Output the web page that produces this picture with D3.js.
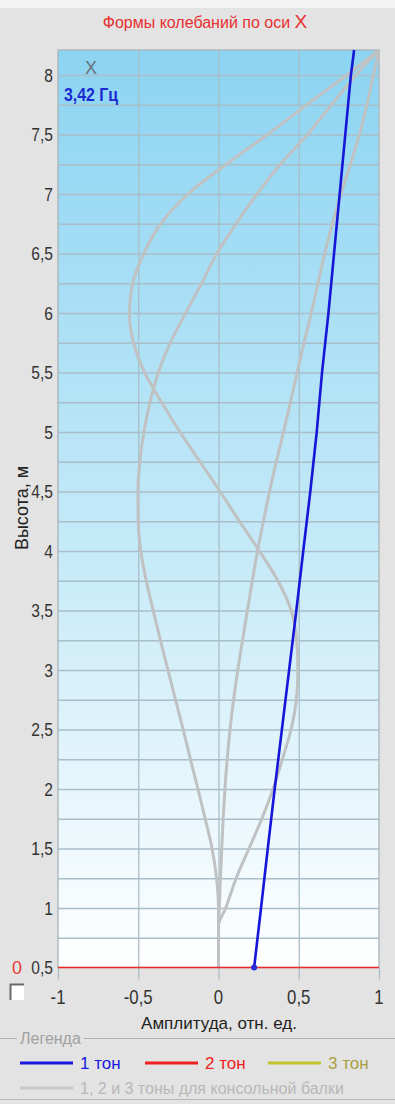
<!DOCTYPE html>
<html>
<head>
<meta charset="utf-8">
<title>Формы колебаний</title>
<script src="https://d3js.org/d3.v7.min.js"></script>
<style>
    body { margin: 0; background: #e3e3e3; }
    svg text { font-family: "Liberation Sans", Arial, sans-serif; }
    .grid .tick line { stroke: #a9bec8; stroke-width: 1.3; }
    .grid .domain { display: none; }
</style>
</head>
<body>
<script>
// 1st tone (measured) - height, m / amplitude
const tone1Heights = [0.5, 1, 1.5, 2, 2.5, 3, 3.5, 4, 4.5, 5, 5.5, 6, 6.5, 7, 7.5, 8, 8.21];
const tone1Values  = [0.222, 0.265, 0.307, 0.35, 0.395, 0.44, 0.485, 0.528, 0.572, 0.612, 0.645, 0.685, 0.72, 0.755, 0.79, 0.825, 0.845];

// cantilever beam modes 1,2,3
const cantHeights = [0.5, 0.85, 1, 1.25, 1.5, 1.75, 2, 2.25, 2.5, 2.75, 3, 3.25, 3.5, 3.75, 4, 4.25, 4.5, 4.75, 5, 5.25, 5.5, 5.75, 6, 6.25, 6.5, 6.75, 7, 7.25, 7.5, 7.75, 8, 8.21];
const cantMode1 = [0, 0, 0.005, 0.012, 0.02, 0.029, 0.04, 0.054, 0.072, 0.094, 0.12, 0.15, 0.18, 0.211, 0.243, 0.28, 0.318, 0.36, 0.405, 0.448, 0.49, 0.533, 0.578, 0.62, 0.662, 0.71, 0.763, 0.822, 0.878, 0.925, 0.965, 1];
const cantMode2 = [0, 0, 0, -0.012, -0.04, -0.083, -0.128, -0.175, -0.22, -0.268, -0.315, -0.362, -0.407, -0.45, -0.484, -0.5, -0.502, -0.49, -0.465, -0.427, -0.375, -0.3, -0.205, -0.105, -0.01, 0.11, 0.24, 0.385, 0.555, 0.704, 0.857, 1];
const cantMode3 = [0, 0, 0.045, 0.11, 0.19, 0.27, 0.34, 0.398, 0.452, 0.485, 0.495, 0.487, 0.453, 0.37, 0.255, 0.13, 0.01, -0.115, -0.24, -0.355, -0.46, -0.53, -0.555, -0.535, -0.465, -0.36, -0.19, 0.048, 0.305, 0.55, 0.8, 1];

const baseHeight = 0.5;
const yTicks = [0.5, 1, 1.5, 2, 2.5, 3, 3.5, 4, 4.5, 5, 5.5, 6, 6.5, 7, 7.5, 8];
const xTicks = [-1, -0.5, 0, 0.5, 1];
const legendNames = ["1 тон", "2 тон", "3 тон"];
const legendColors = ["#1818e0", "#f02020", "#c4c42a"];
const legendTextColors = ["#1818e0", "#f02020", "#a8a040"];
const cantLegend = "1, 2 и 3 тоны для консольной балки";
const freqLabel = "3,42 Гц";

const W = 395, H = 1104;
const fmt = d => String(d).replace(".", ",");

const svg = d3.select("body").append("svg")
    .attr("width", W)
    .attr("height", H);

svg.append("rect").attr("width", W).attr("height", 8).attr("fill", "#f3f3f3");

const x = d3.scaleLinear().domain([-1, 1]).range([58, 379]);
const y = d3.scaleLinear().domain([0.5, 8.21]).range([967.5, 50]);

// background gradient
const grad = svg.append("defs").append("linearGradient")
    .attr("id", "bg").attr("x1", 0).attr("y1", 0).attr("x2", 0).attr("y2", 1);
grad.append("stop").attr("offset", "0%").attr("stop-color", "#8cd4f2");
grad.append("stop").attr("offset", "55%").attr("stop-color", "#c6eaf8");
grad.append("stop").attr("offset", "100%").attr("stop-color", "#ffffff");

svg.append("rect")
    .attr("x", x(-1)).attr("y", y(8.21))
    .attr("width", x(1) - x(-1)).attr("height", y(0.5) - y(8.21))
    .attr("fill", "url(#bg)")
    .attr("stroke", "#a8b4ba").attr("stroke-width", 1.3);

// gridlines
svg.append("g")
    .attr("class", "grid")
    .attr("transform", `translate(${x(-1)},0)`)
    .call(d3.axisLeft(y).tickValues(d3.range(0.75, 8.01, 0.25)).tickSize(-(x(1) - x(-1))).tickFormat(""));

svg.append("g")
    .attr("class", "grid")
    .attr("transform", `translate(0,${y(0.5)})`)
    .call(d3.axisBottom(x).tickValues([-0.5, 0, 0.5]).tickSize(-(y(0.5) - y(8.21))).tickFormat(""));

// small ticks below x axis
svg.append("g")
    .attr("class", "grid")
    .attr("transform", `translate(0,${y(0.5)})`)
    .call(d3.axisBottom(x).tickValues(xTicks).tickSize(12).tickFormat(""));

// y tick labels (condensed look)
svg.append("g").selectAll("text")
    .data(yTicks).join("text")
    .attr("transform", d => `translate(53,${y(d)}) scale(0.82,1)`)
    .attr("dy", "0.36em")
    .attr("text-anchor", "end")
    .attr("font-size", 19).attr("fill", "#333")
    .text(fmt);

// x tick labels
svg.append("g").selectAll("text")
    .data(xTicks).join("text")
    .attr("transform", d => `translate(${x(d)},1004) scale(0.84,1)`)
    .attr("text-anchor", "middle")
    .attr("font-size", 20).attr("fill", "#333")
    .text(fmt);

// titles
const title = svg.append("text")
    .attr("x", 205).attr("y", 28)
    .attr("text-anchor", "middle")
    .attr("font-size", 16).attr("fill", "#e83030");
title.append("tspan").text("Формы колебаний по оси ");
title.append("tspan").attr("font-size", 19).text("X");

svg.append("text")
    .attr("x", 219).attr("y", 1029)
    .attr("text-anchor", "middle")
    .attr("font-size", 17).attr("fill", "#222")
    .text("Амплитуда, отн. ед.");

svg.append("text")
    .attr("transform", "translate(28,508) rotate(-90)")
    .attr("text-anchor", "middle")
    .attr("font-size", 18).attr("fill", "#222")
    .text("Высота, м");

// curves
const line = d3.line()
    .x(d => x(d[1]))
    .y(d => y(d[0]))
    .curve(d3.curveMonotoneY);

[cantMode1, cantMode2, cantMode3].forEach(function(mode) {
    svg.append("path")
        .datum(cantHeights.map((h, i) => [h, mode[i]]))
        .attr("d", line)
        .attr("fill", "none")
        .attr("stroke", "#bfc1c2")
        .attr("stroke-width", 3);
});

svg.append("line")
    .attr("x1", x(-1)).attr("x2", x(1))
    .attr("y1", y(baseHeight)).attr("y2", y(baseHeight))
    .attr("stroke", "#e82a2a").attr("stroke-width", 1.5);

svg.append("path")
    .datum(tone1Heights.map((h, i) => [h, tone1Values[i]]))
    .attr("d", line.curve(d3.curveLinear))
    .attr("fill", "none")
    .attr("stroke", "#1616d8")
    .attr("stroke-width", 2.6);

svg.append("circle")
    .attr("cx", x(tone1Values[0])).attr("cy", y(tone1Heights[0]))
    .attr("r", 3).attr("fill", "#2a2ad8");

// marker labels
svg.append("text").attr("x", 91).attr("y", 74)
    .attr("text-anchor", "middle").attr("font-size", 18).attr("fill", "#6a7278").text("X");
svg.append("text").attr("transform", "translate(64,101) scale(0.88,1)")
    .attr("font-size", 18).attr("font-weight", "bold").attr("fill", "#1a2ad0").text(freqLabel);

// red zero + checkbox
svg.append("text").attr("x", 17).attr("y", y(0.5)).attr("dy", "0.36em")
    .attr("text-anchor", "middle").attr("font-size", 18).attr("fill", "#e83a3a").text("0");
svg.append("rect").attr("x", 10).attr("y", 984).attr("width", 14).attr("height", 16).attr("fill", "#fff");
svg.append("path").attr("d", "M10.5,1000 V984.5 H24").attr("fill", "none").attr("stroke", "#6a6a6a").attr("stroke-width", 2);

// legend group box
svg.append("path").attr("d", "M0,1038.5 H17 M84,1038.5 H395").attr("stroke", "#b0b0b0").attr("stroke-width", 1);
svg.append("path").attr("d", "M0,1099.5 H395").attr("stroke", "#b8b8b8").attr("stroke-width", 1);
svg.append("text").attr("x", 20).attr("y", 1044).attr("font-size", 16).attr("fill", "#a0a0a0").text("Легенда");

const legX = [20, 145, 268];
legendNames.forEach(function(name, i) {
    svg.append("line")
        .attr("x1", legX[i]).attr("x2", legX[i] + 53)
        .attr("y1", 1063).attr("y2", 1063)
        .attr("stroke", legendColors[i]).attr("stroke-width", 3);
    svg.append("text")
        .attr("x", legX[i] + 60).attr("y", 1063).attr("dy", "0.36em")
        .attr("font-size", 17).attr("fill", legendTextColors[i])
        .text(name);
});
svg.append("line")
    .attr("x1", 20).attr("x2", 73).attr("y1", 1088).attr("y2", 1088)
    .attr("stroke", "#c8c8c8").attr("stroke-width", 3);
svg.append("text")
    .attr("x", 80).attr("y", 1088).attr("dy", "0.36em")
    .attr("font-size", 16).attr("fill", "#b8b8b8")
    .text(cantLegend);
</script>
</body>
</html>
